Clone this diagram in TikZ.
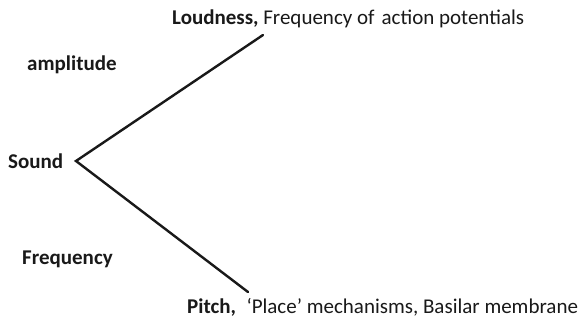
\documentclass[tikz,border=0pt]{standalone}
\usepackage{fontspec}
\setmainfont{Carlito}
\begin{document}
\begin{tikzpicture}[x=1pt,y=-1pt,
  lbl/.style={inner sep=0pt,anchor=west,font=\fontsize{21}{24}\selectfont\bfseries,text=black!90},
  txt/.style={inner sep=0pt,anchor=west,font=\fontsize{21}{24}\selectfont,text=black!90},
  branch/.style={line width=2.4pt,black!90,line cap=round}]
\useasboundingbox[fill=white] (0,0) rectangle (584,322);
\node[lbl] (sound) at (8,161) {Sound};
\node[lbl] (amp) at (27,65) {amplitude};
\node[lbl] (freq) at (22,259) {Frequency};
\node[txt] (loud) at (172,19) {\textbf{Loudness,} Frequency of\,\,action potentials};
\node[txt] (pitch) at (187,307) {\textbf{Pitch,}\,\,\,‘Place’ mechanisms, Basilar membrane};
\coordinate (apex) at (76,161);
\coordinate (top) at (263,35);
\coordinate (bot) at (248,292);
\draw[branch] (top) -- (apex) -- (bot);
\end{tikzpicture}
\end{document}
